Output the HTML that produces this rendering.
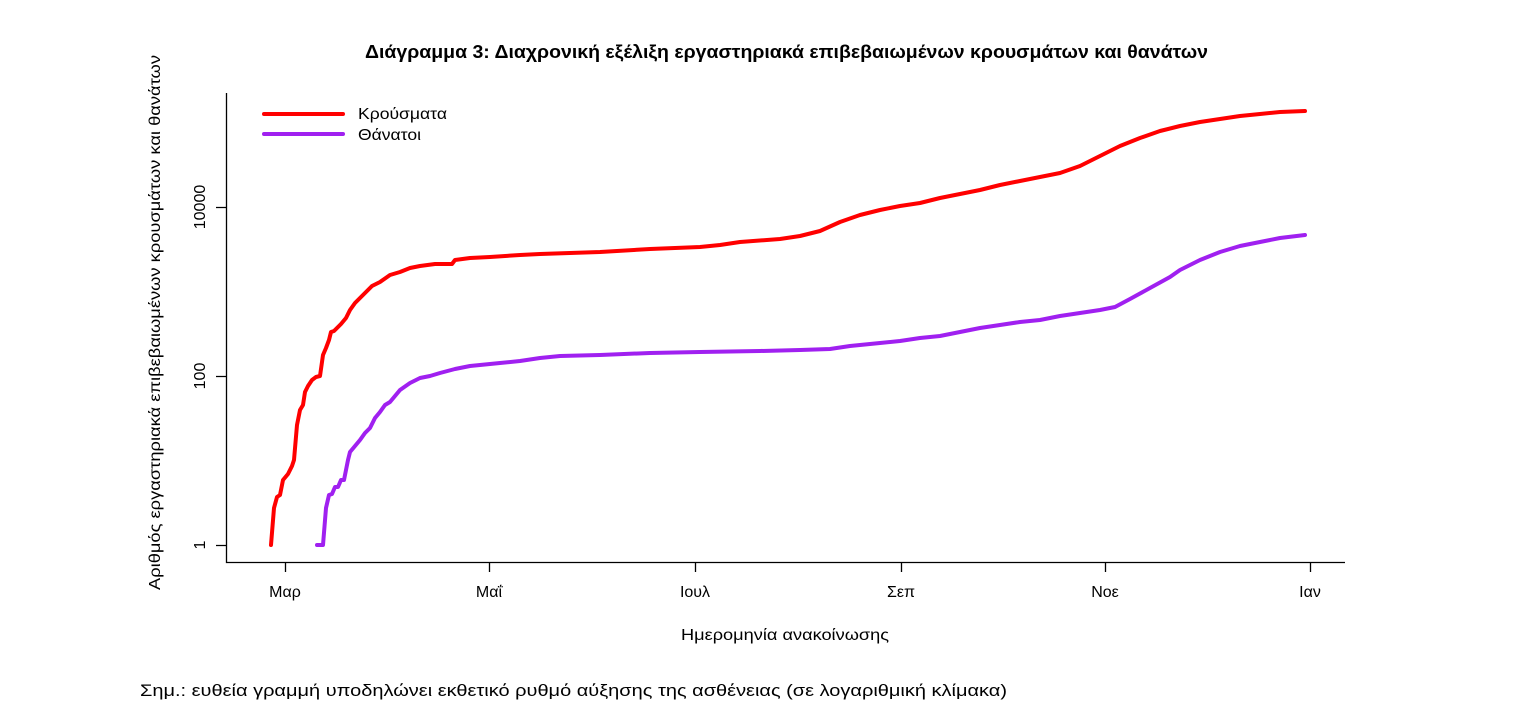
<!DOCTYPE html>
<html><head><meta charset="utf-8"><style>
html,body{margin:0;padding:0;background:#fff;}
svg{display:block;font-family:"Liberation Sans","DejaVu Sans",sans-serif;}
</style></head><body>
<svg width="1534" height="718" viewBox="0 0 1534 718" xmlns="http://www.w3.org/2000/svg">
<text x="365" y="58" font-size="18" font-weight="bold" fill="#000" textLength="843" lengthAdjust="spacingAndGlyphs">Διάγραμμα 3: Διαχρονική εξέλιξη εργαστηριακά επιβεβαιωμένων κρουσμάτων και θανάτων</text>
<g stroke="#000" stroke-width="1.3" fill="none">
<path d="M226.5 93 V562.5 H1345"/>
<path d="M216 545.5 H226.5 M216 376.5 H226.5 M216 207.5 H226.5"/>
<path d="M285.5 562.5 V572 M489.5 562.5 V572 M695.5 562.5 V572 M901.5 562.5 V572 M1105.5 562.5 V572 M1310.5 562.5 V572"/>
</g>
<g font-size="16" fill="#000" text-anchor="middle">
<text transform="translate(205,545) rotate(-90)">1</text>
<text transform="translate(205,376) rotate(-90)">100</text>
<text transform="translate(205,207) rotate(-90)">10000</text>
<text x="285" y="597">Μαρ</text>
<text x="489" y="597">Μαΐ</text>
<text x="695" y="597">Ιουλ</text>
<text x="901" y="597">Σεπ</text>
<text x="1105" y="597">Νοε</text>
<text x="1310" y="597">Ιαν</text>
</g>
<text x="681" y="640" font-size="16" textLength="208" lengthAdjust="spacingAndGlyphs">Ημερομηνία ανακοίνωσης</text>
<text transform="translate(160,590) rotate(-90)" font-size="16" textLength="535" lengthAdjust="spacingAndGlyphs">Αριθμός εργαστηριακά επιβεβαιωμένων κρουσμάτων και θανάτων</text>
<text x="140" y="696" font-size="17" fill="#000" textLength="867" lengthAdjust="spacingAndGlyphs">Σημ.: ευθεία γραμμή υποδηλώνει εκθετικό ρυθμό αύξησης της ασθένειας (σε λογαριθμική κλίμακα)</text>
<g stroke-width="4" fill="none" stroke-linecap="round" stroke-linejoin="round">
<path stroke="#ff0000" d="M264 114 H343"/>
<path stroke="#a020f0" d="M264 134 H343"/>
<path stroke="#ff0000" d="M271,545 274,508 277,497 280,495 283,480 288,474 292,466 294,460 297,425 300,410 303,405 305,392 308,386 312,380 316,377 320,376 323,355 326,348 329,340 331,332 334,331 338,327 341,324 346,318 350,310 355,303 360,298 365,293 372,286 380,282 390,275 400,272 410,268 420,266 435,264 452,264 455,260 470,258 490,257 520,255 540,254 600,252 650,249 700,247 720,245 740,242 780,239 800,236 820,231 840,222 860,215 880,210 900,206 920,203 940,198 960,194 980,190 1000,185 1020,181 1040,177 1060,173 1080,166 1100,156 1120,146 1140,138 1160,131 1180,126 1200,122 1220,119 1240,116 1260,114 1280,112 1305,111"/>
<path stroke="#a020f0" d="M317,545 323,545 326,508 329,495 332,494 335,487 338,487 341,480 344,480 348,460 350,452 355,446 360,440 365,433 370,428 375,418 380,412 385,405 390,402 395,396 400,390 410,383 420,378 430,376 440,373 455,369 470,366 500,363 520,361 540,358 560,356 600,355 650,353 700,352 760,351 800,350 830,349 850,346 880,343 900,341 920,338 940,336 960,332 980,328 1000,325 1020,322 1040,320 1060,316 1080,313 1100,310 1115,307 1130,299 1150,288 1170,277 1180,270 1200,260 1220,252 1240,246 1260,242 1280,238 1305,235"/>
</g>
<g font-size="16" fill="#000">
<text x="358" y="119" textLength="89" lengthAdjust="spacingAndGlyphs">Κρούσματα</text>
<text x="358" y="140" textLength="63" lengthAdjust="spacingAndGlyphs">Θάνατοι</text>
</g>
</svg>
</body></html>
